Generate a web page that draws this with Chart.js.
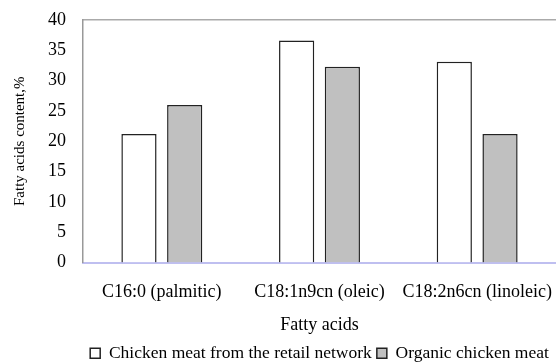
<!DOCTYPE html>
<html>
<head>
<meta charset="utf-8">
<script src="https://cdn.jsdelivr.net/npm/chart.js@4"></script>
<style>
  html, body { margin: 0; padding: 0; background: #fff; }
  #wrap { width: 556px; height: 362px; }
</style>
</head>
<body>
<div id="wrap"><canvas id="fattyChart" width="556" height="362"></canvas></div>
<script>
// data
const acids = ['C16:0 (palmitic)', 'C18:1n9cn (oleic)', 'C18:2n6cn (linoleic)'];
const retailValues = [21.2, 36.6, 33.1];
const organicValues = [26.0, 32.3, 21.2];
const seriesNames = ['Chicken meat from the retail network', 'Organic chicken meat'];

const serif = "'Liberation Serif', 'Times New Roman', serif";

const ctx = document.getElementById('fattyChart').getContext('2d');

new Chart(ctx, {
  type: 'bar',
  data: {
    labels: acids,
    datasets: [
      {
        label: seriesNames[0],
        data: retailValues,
        backgroundColor: '#ffffff',
        borderColor: '#222222',
        borderWidth: 1.5,
      },
      {
        label: seriesNames[1],
        data: organicValues,
        backgroundColor: '#c0c0c0',
        borderColor: '#222222',
        borderWidth: 1.5,
      },
    ],
  },
  options: {
    responsive: false,
    animation: false,
    categoryPercentage: 0.58,
    barPercentage: 0.77,
    layout: {
      padding: { top: 20, right: -2, bottom: -10, left: 0 },
    },
    scales: {
      x: {
        grid: { display: false, drawTicks: false },
        border: { display: true, color: '#bfbff0', width: 2 },
        ticks: {
          color: '#000',
          padding: 19,
          maxRotation: 0,
          autoSkip: false,
          font: { family: serif, size: 18 },
        },
        title: {
          display: true,
          text: 'Fatty acids',
          color: '#000',
          font: { family: serif, size: 18 },
          padding: { top: 0, bottom: 3 },
        },
        // fixed size, no extra side padding for the long labels
        afterFit: function (scale) {
          scale.height = 77;
          scale.paddingLeft = 0;
          scale.paddingRight = 0;
        },
      },
      xTop: {
        position: 'top',
        grid: { display: false, drawTicks: false },
        border: { display: true, color: '#aaaaaa', width: 1.5 },
        ticks: { display: false },
        afterFit: function (scale) {
          scale.height = 0;
          scale.paddingLeft = 0;
          scale.paddingRight = 0;
        },
      },
      y: {
        min: 0,
        max: 40,
        grid: { display: false, drawTicks: false },
        border: { display: true, color: '#999999', width: 1.5 },
        ticks: {
          stepSize: 5,
          color: '#000',
          padding: 17,
          font: { family: serif, size: 18 },
        },
        title: {
          display: true,
          text: 'Fatty acids content,%',
          color: '#000',
          font: { family: serif, size: 15 },
          padding: { top: 11, bottom: 0 },
        },
        afterFit: function (scale) {
          scale.width = 83;
          scale.paddingTop = 0;
          scale.paddingBottom = 0;
        },
      },
    },
    plugins: {
      tooltip: { enabled: false },
      legend: {
        display: true,
        position: 'bottom',
        fullSize: false,
        labels: {
          color: '#000',
          boxWidth: 10,
          boxHeight: 10,
          padding: 5,
          font: { family: serif, size: 17.5 },
        },
      },
    },
  },
});
</script>
</body>
</html>
